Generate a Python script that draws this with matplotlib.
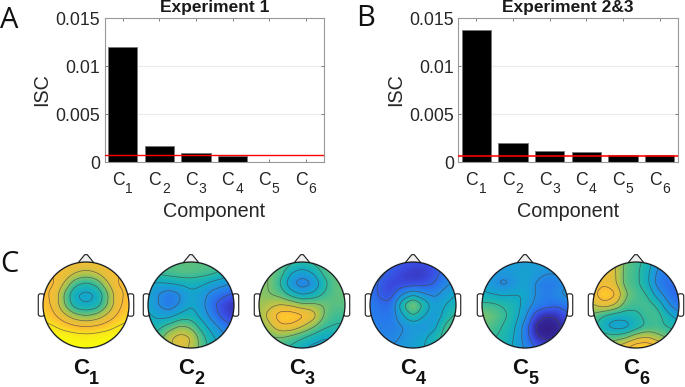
import numpy as np
import matplotlib
matplotlib.use('Agg')
import matplotlib.pyplot as plt
from matplotlib.colors import LinearSegmentedColormap
from matplotlib.patches import Circle, Polygon, FancyBboxPatch

plt.rcParams['font.family'] = ['Liberation Sans', 'DejaVu Sans']

W, H = 685, 387

# bar heights
component_ids = ['1', '2', '3', '4', '5', '6']
isc_exp1 = [0.0120, 0.0017, 0.0009, 0.0006, 0.0, 0.0]
isc_exp23 = [0.0138, 0.0020, 0.0011, 0.0010, 0.0007, 0.0007]
thresh_exp1 = 0.00075
thresh_exp23 = 0.00058
yticks = [0, 0.005, 0.01, 0.015]
yticklabels = ['0', '0.005', '0.01', '0.015']

# scalp maps, rows go front to back, values are position on the colormap
c1_map = [[.74, .76, .78, .78, .78, .78, .78, .76, .74],
          [.78, .80, .78, .70, .66, .70, .78, .80, .78],
          [.80, .82, .68, .50, .44, .50, .68, .82, .80],
          [.82, .78, .56, .36, .32, .36, .56, .78, .82],
          [.84, .78, .58, .40, .36, .40, .58, .78, .84],
          [.88, .82, .72, .62, .58, .62, .72, .82, .88],
          [.95, .92, .86, .82, .80, .82, .86, .92, .95],
          [1.0, 1.0, .99, .97, .96, .97, .99, 1.0, 1.0],
          [1.0, 1.0, 1.0, 1.0, 1.0, 1.0, 1.0, 1.0, 1.0]]
c2_map = [[.54, .54, .54, .54, .54, .54, .54, .54, .54],
          [.50, .50, .52, .54, .54, .52, .50, .44, .40],
          [.36, .34, .36, .38, .40, .38, .32, .28, .24],
          [.34, .24, .18, .24, .34, .30, .20, .16, .12],
          [.36, .24, .18, .26, .36, .28, .16, .08, .04],
          [.38, .32, .32, .40, .42, .32, .20, .10, .06],
          [.42, .44, .52, .60, .56, .42, .30, .20, .14],
          [.46, .52, .68, .74, .70, .52, .38, .28, .22],
          [.48, .56, .68, .72, .68, .54, .42, .32, .26]]
c3_map = [[.58, .58, .56, .50, .46, .50, .54, .56, .56],
          [.60, .58, .52, .36, .30, .36, .50, .56, .56],
          [.60, .58, .46, .26, .18, .24, .42, .54, .56],
          [.60, .58, .54, .42, .34, .38, .48, .54, .56],
          [.62, .66, .70, .68, .62, .62, .58, .54, .54],
          [.62, .74, .88, .88, .84, .76, .58, .50, .50],
          [.58, .66, .78, .78, .70, .60, .50, .46, .46],
          [.54, .56, .58, .54, .48, .42, .36, .36, .40],
          [.50, .52, .50, .44, .38, .32, .32, .36, .38]]
c4_map = [[.20, .18, .14, .12, .10, .10, .12, .18, .24],
          [.20, .16, .12, .08, .06, .06, .10, .18, .24],
          [.18, .12, .08, .08, .08, .10, .14, .22, .28],
          [.18, .12, .10, .24, .34, .26, .22, .30, .36],
          [.20, .16, .16, .46, .64, .46, .30, .36, .42],
          [.20, .18, .18, .34, .48, .36, .28, .40, .50],
          [.22, .20, .20, .24, .28, .26, .32, .50, .56],
          [.24, .22, .22, .26, .30, .34, .42, .52, .56],
          [.24, .24, .26, .28, .32, .36, .42, .50, .52]]
c5_map = [[.30, .30, .30, .30, .30, .30, .30, .30, .30],
          [.32, .30, .28, .30, .34, .30, .26, .26, .28],
          [.34, .26, .22, .26, .34, .24, .18, .20, .26],
          [.38, .36, .34, .36, .36, .24, .20, .24, .28],
          [.50, .50, .46, .42, .32, .22, .18, .16, .20],
          [.60, .56, .50, .42, .28, .08, .02, .04, .12],
          [.56, .52, .46, .38, .20, .00, .00, .00, .08],
          [.50, .48, .44, .36, .20, .04, .00, .02, .12],
          [.48, .46, .42, .34, .24, .14, .10, .12, .16]]
c6_map = [[.72, .72, .70, .56, .50, .44, .28, .22, .22],
          [.72, .76, .72, .54, .50, .40, .22, .18, .18],
          [.72, .78, .72, .54, .50, .40, .20, .16, .16],
          [.76, .90, .84, .60, .52, .48, .30, .18, .14],
          [.68, .76, .70, .54, .50, .52, .46, .26, .16],
          [.56, .46, .40, .40, .44, .50, .52, .40, .30],
          [.50, .36, .30, .30, .40, .48, .50, .46, .42],
          [.56, .54, .52, .56, .66, .70, .62, .56, .52],
          [.62, .66, .70, .80, .90, .92, .84, .68, .58]]
scalp_maps = [c1_map, c2_map, c3_map, c4_map, c5_map, c6_map]
scalp_centers = [86, 191, 302, 413, 525, 636]

parula = LinearSegmentedColormap.from_list('parula', [
    '#33208c', '#3a4ae0', '#2878ec', '#1f96dc', '#12aac8', '#22b8a8',
    '#5cc080', '#a8c450', '#e2c03c', '#fcbc34', '#f9e020', '#f9fb0e'])


def pxAxes(left, top, right, bottom):
    return fig.add_axes([left / W, 1 - bottom / H, (right - left) / W, (bottom - top) / H])


def smoothGrid(grid, n=181):
    # bilinear upsample then box blur so the contours come out round
    grid = np.array(grid)[::-1]
    coarse = np.linspace(-1, 1, grid.shape[0])
    fine = np.linspace(-1, 1, n)
    z = np.array([np.interp(fine, coarse, row) for row in grid])
    z = np.array([np.interp(fine, coarse, col) for col in z.T]).T
    k = np.ones(15) / 15
    for _ in range(2):
        z = np.pad(z, 7, mode='edge')
        z = np.apply_along_axis(lambda r: np.convolve(r, k, mode='valid'), 0, z)
        z = np.apply_along_axis(lambda r: np.convolve(r, k, mode='valid'), 1, z)
    return fine, z


def barPanel(left, right, values, thresh, title, lw, alpha):
    ax = pxAxes(left, 18, right, 162)
    ax.bar(range(1, 7), values, width=0.8, color='black', edgecolor='#777777', linewidth=0.6, zorder=2)
    ax.axhline(thresh, color='red', lw=lw, alpha=alpha, zorder=3)
    ax.set_xlim(0.5, 6.5)
    ax.set_ylim(0, 0.015)
    ax.set_xticks(range(1, 7))
    ax.set_xticklabels([])
    ax.set_yticks(yticks)
    ax.set_yticklabels(yticklabels)
    ax.yaxis.grid(True, color='#ececec', lw=0.8)
    ax.set_axisbelow(True)
    ax.tick_params(direction='in', top=True, right=True, length=2, width=0.6, color='#666666',
                   labelsize=12.7, labelcolor='#262626')
    ax.tick_params(axis='y', pad=3)
    # C with a dropped subscript, one text each so the gap can be set
    for i, c in enumerate(component_ids):
        ax.annotate('C', (i + 1, 0), xycoords=('data', 'axes fraction'), xytext=(-4.7, -18), textcoords='offset pixels',
                    ha='center', va='center', fontsize=12.7, color='#262626')
        ax.annotate(c, (i + 1, 0), xycoords=('data', 'axes fraction'), xytext=(6.5, -27), textcoords='offset pixels',
                    ha='center', va='center', fontsize=10, color='#262626')
    for s in ax.spines.values():
        s.set_color('#999999')
        s.set_linewidth(0.8)
    ax.set_xlabel('Component', fontsize=14.2, color='#262626', va='center')
    ax.xaxis.set_label_coords(0.5, -49 / 144)
    ax.set_ylabel('ISC', fontsize=14.2, color='#262626', labelpad=3)
    ax.set_title(title, fontsize=12.5, fontweight='bold', color='#1a1a1a', pad=4)
    return ax


def drawHead(cx, grid, label):
    r = 43
    ax = pxAxes(cx - 1.3 * r, 305 - 1.3 * r, cx + 1.3 * r, 305 + 1.3 * r)
    ax.set_xlim(-1.3, 1.3)
    ax.set_ylim(-1.3, 1.3)
    ax.axis('off')
    fine, z = smoothGrid(grid)
    ax.add_patch(Circle((0, 0), 1.03, fc='#e6eefa', ec='none', zorder=0))
    im = ax.imshow(z, extent=[-1, 1, -1, 1], origin='lower', cmap=parula, vmin=0, vmax=1, zorder=1)
    clip = Circle((0, 0), 1, transform=ax.transData)
    im.set_clip_path(clip)
    cs = ax.contour(fine, fine, z, levels=np.arange(0.03, 0.95, 0.11), colors='#444444', linewidths=0.5,
                    alpha=0.75, zorder=2)
    cs.set_clip_path(clip)
    ax.add_patch(Circle((0, 0), 1, fc='none', ec='#1a1a1a', lw=0.9, zorder=3))
    ax.add_patch(Polygon([[-0.18, 0.985], [-0.03, 1.17], [0.03, 1.17], [0.18, 0.985]], closed=True,
                         fc='#eeeeee', ec='#1a1a1a', lw=0.8, zorder=0.5))
    for side in [-1, 1]:
        x0 = 0.99 if side > 0 else -1.09
        ax.add_patch(FancyBboxPatch((x0, -0.24), 0.10, 0.48, boxstyle='round,pad=0.02,rounding_size=0.05', fc='white',
                                    ec='#1a1a1a', lw=0.8, zorder=0.5))
    fig.text((cx - 4.5) / W, 1 - 368 / H, 'C', fontsize=16, fontweight='bold', ha='center', va='center',
             color='#111111')
    fig.text((cx + 8) / W, 1 - 380 / H, label, fontsize=13, fontweight='bold', ha='center', va='center',
             color='#111111')


fig = plt.figure(figsize=(W / 100, H / 100), dpi=100)
barPanel(104.5, 324, isc_exp1, thresh_exp1, 'Experiment 1', 1.0, 1.0)
barPanel(458, 678, isc_exp23, thresh_exp23, 'Experiment 2&3', 1.5, 0.8)
for cx, grid, label in zip(scalp_centers, scalp_maps, component_ids):
    drawHead(cx, grid, label)

for letter, x, y in [('A', 0, 20), ('B', 356, 19), ('C', 0, 265)]:
    fig.text(x / W, 1 - y / H, letter, fontsize=21, family='Open Sans', ha='left', va='center', color='#111111')

fig.savefig('out.png', dpi=100)
